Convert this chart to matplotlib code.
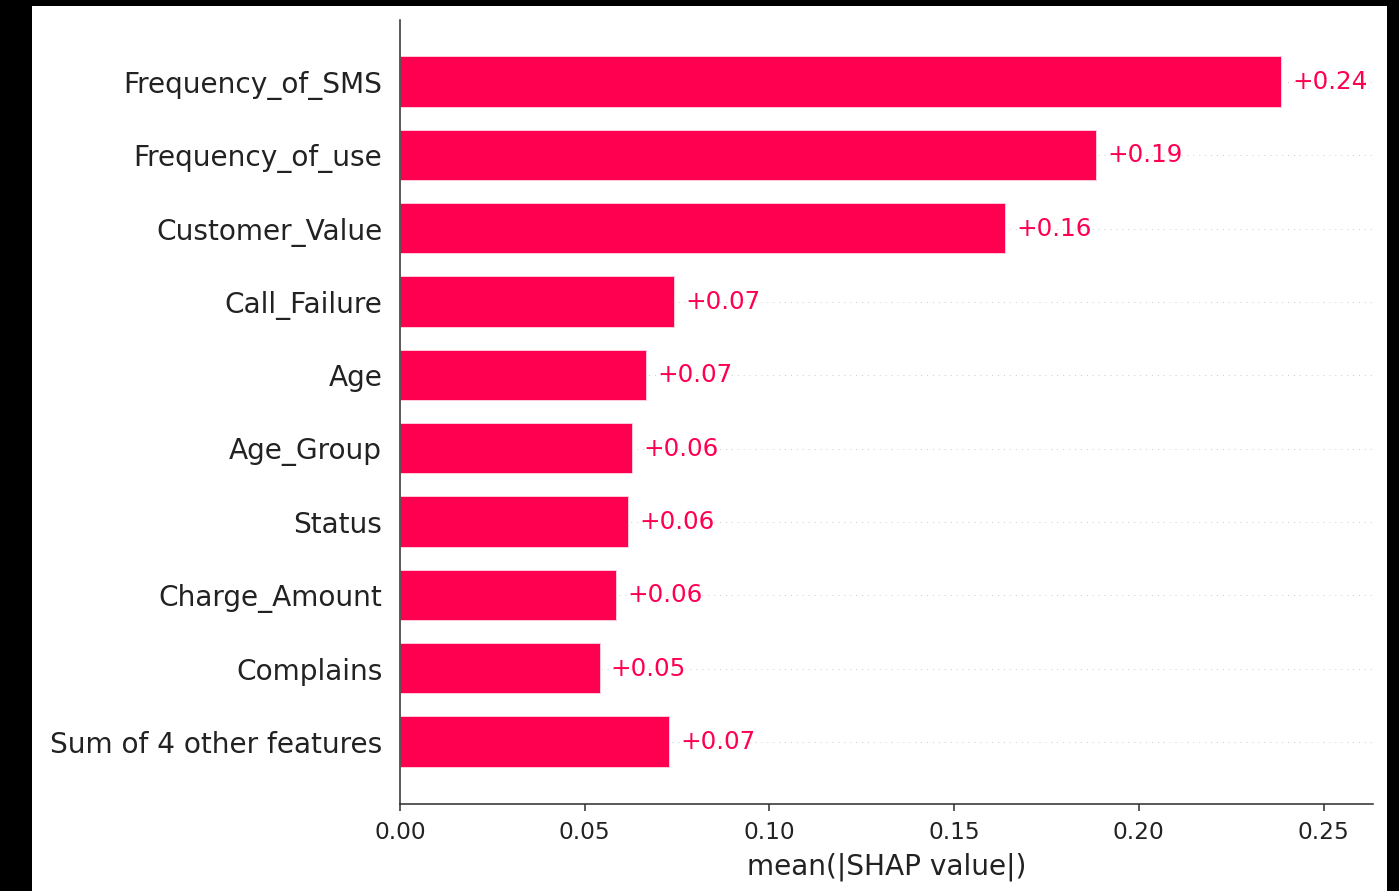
import numpy as np
import matplotlib
matplotlib.use('Agg')
from matplotlib import pyplot as plt
from matplotlib.patches import Rectangle

features = ['Frequency_of_SMS', 'Frequency_of_use', 'Customer_Value', 'Call_Failure',
            'Age', 'Age_Group', 'Status', 'Charge_Amount', 'Complains',
            'Sum of 4 other features']
shap_means = [0.2388, 0.1887, 0.1641, 0.0745, 0.0669, 0.0631, 0.0620, 0.0588, 0.0544, 0.0732]

red = '#ff0051'
ink = '#222222'
dpi = 142
fig = plt.figure(figsize=(1399 / dpi, 891 / dpi), dpi=dpi, facecolor='black')

# white canvas inside the black frame
fig.patches.append(Rectangle((32 / 1399, 0), (1387 - 32) / 1399, 1 - 6 / 891,
                             transform=fig.transFigure, facecolor='white',
                             edgecolor='none', zorder=-10))

ax = fig.add_axes([400 / 1399, 1 - 804 / 891, (1373 - 400) / 1399, (804 - 20) / 891])
ax.set_facecolor('none')

y_pos = np.arange(len(features), 0, -1)
for y in y_pos:
    ax.axhline(y, color='#cccccc', lw=0.5, dashes=(1, 5), zorder=-1)

ax.barh(y_pos, shap_means, 0.7, align='center', color=red,
        edgecolor=(1, 1, 1, 0.8))

for y, v in zip(y_pos, shap_means):
    ax.annotate('%+0.02f' % v, (v, y), xytext=(5, 0), textcoords='offset points',
                ha='left', va='center', color=red, fontsize=12.5)

ax.set_yticks(y_pos)
ax.set_yticklabels(features, fontsize=14.2, color=ink)
ax.set_xlim(0, 0.2634)
ax.set_ylim(0.154, 10.846)
ax.set_xlabel('mean(|SHAP value|)', fontsize=14.2, color=ink, labelpad=4.5)
ax.xaxis.set_ticks_position('bottom')
ax.yaxis.set_ticks_position('none')
ax.spines['right'].set_visible(False)
ax.spines['top'].set_visible(False)
ax.spines['left'].set_color('#333333')
ax.spines['bottom'].set_color('#333333')
ax.tick_params('x', labelsize=11.8, colors='#333333', labelcolor=ink, pad=5)
ax.tick_params('y', pad=5.5)

fig.savefig('out.png', dpi=dpi, facecolor='black')
